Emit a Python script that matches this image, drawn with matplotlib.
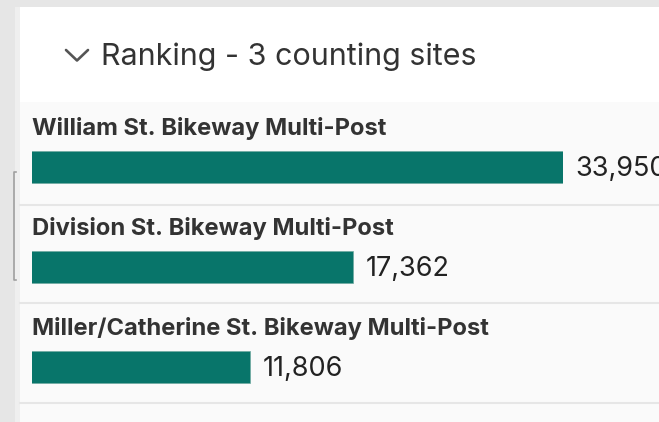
import matplotlib
matplotlib.use("Agg")
import matplotlib.pyplot as plt
from matplotlib.patches import Rectangle

# Data
sites = ["William St. Bikeway Multi-Post",
         "Division St. Bikeway Multi-Post",
         "Miller/Catherine St. Bikeway Multi-Post"]
counts = [33950, 17362, 11806]
title = "Ranking - 3 counting sites"

plt.rcParams['font.family'] = ['Inter', 'DejaVu Sans']

BAR = "#08756a"
TXT = "#333333"

fig = plt.figure(figsize=(6.59, 4.22), dpi=100)
fig.patch.set_facecolor("#e6e6e6")

# background panel drawn in pixel coordinates
bg = fig.add_axes([0, 0, 1, 1])
bg.set_xlim(0, 659)
bg.set_ylim(422, 0)
bg.axis("off")
bg.add_patch(Rectangle((15, 7), 5, 415, color="#efefef", lw=0))
bg.add_patch(Rectangle((20, 7), 639, 95, color="white", lw=0))
bg.add_patch(Rectangle((20, 102), 639, 320, color="#fafafa", lw=0))
for yy in [205, 303, 403]:
    bg.plot([20, 659], [yy, yy], color="#e6e6e6", lw=1.5)
# small bracket on the left edge
bg.plot([16, 13.5, 13.5, 16], [172, 172, 280, 280], color="#a0a0a0", lw=1.2)
# chevron
bg.plot([66, 77, 88], [50, 60.5, 50], color="#555555", lw=1.9,
        solid_capstyle="round", solid_joinstyle="round")

renderer = fig.canvas.get_renderer()


def fit(t, width_px):
    w = t.get_window_extent(renderer).width
    t.set_fontsize(t.get_fontsize() * width_px / w)


t = bg.text(101, 65, title, fontsize=18, color=TXT, va="baseline")
fit(t, 375)

# bars axis: rows 100 px apart, bar 32 px tall
ax = fig.add_axes([32 / 659, 1 - 417 / 422, 531 / 659, 300 / 422])
ax.patch.set_alpha(0)
ax.axis("off")
# the widget draws bar lengths on a compressed scale
ax.set_xscale("function", functions=(lambda v: v ** 0.3, lambda v: v ** (1 / 0.3)))
ax.set_xlim(4322, counts[0])
ax.set_ylim(len(sites) - 0.5, -0.5)

ys = list(range(len(sites)))
ax.barh(ys, counts, height=0.32, color=BAR, edgecolor="#6fa9a1", linewidth=0.5)

labs = []
vals = []
for i, (s, c) in enumerate(zip(sites, counts)):
    lab = ax.text(0, i - 0.32, s, transform=ax.get_yaxis_transform(),
                  fontsize=12, fontweight="bold", color=TXT, va="baseline")
    labs.append(lab)
    v = ax.annotate(f"{c:,}", xy=(c, i + 0.02), xytext=(9, 0),
                    textcoords="offset points", fontsize=17, color="#222222",
                    va="center", ha="left", annotation_clip=False)
    vals.append(v)
fit(labs[0], 353)
for lab in labs[1:]:
    lab.set_fontsize(labs[0].get_fontsize())
fit(vals[1], 84)
for v in vals:
    v.set_fontsize(vals[1].get_fontsize())

fig.savefig("out.png", dpi=100, facecolor=fig.get_facecolor())
